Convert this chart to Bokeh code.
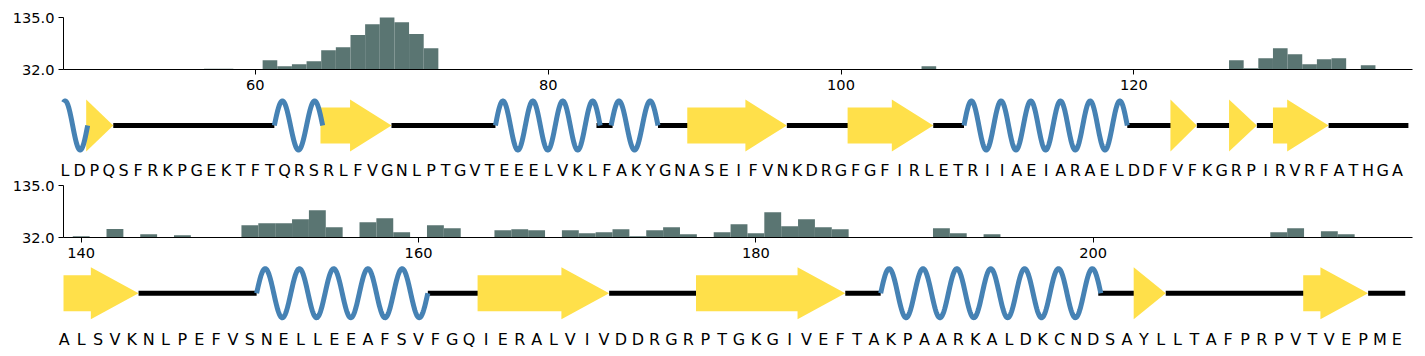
import numpy as np
from bokeh.plotting import figure
from bokeh.layouts import column
from bokeh.models import Range1d, FixedTicker, PrintfTickFormatter, LabelSet, ColumnDataSource
from bokeh.embed import file_html
from bokeh.resources import INLINE
from bokeh.core.properties import value

# ---------------- data ----------------
bar_residues = [57, 58, 61, 62, 63, 64, 65, 66, 67, 68, 69, 70, 71, 72, 106,
                127, 128, 129, 130, 131, 132, 133, 134, 136,
                140, 142, 144, 146, 150, 151, 152, 153, 154, 155, 157, 158, 159,
                161, 162, 165, 166, 167, 169, 170, 171, 172, 173, 174, 175, 176,
                178, 179, 180, 181, 182, 183, 184, 185, 191, 192, 194,
                211, 212, 214, 215]
bar_values = [33.5, 33.5, 50.4, 38.5, 42.5, 48.4, 70.2, 76.2, 100.5, 121.7, 135.0, 125.6, 102.5, 74.2, 38.5,
              50.4, 34.6, 54.4, 74.2, 62.3, 42.5, 52.4, 54.4, 40.5,
              34.6, 48.9, 38.5, 36.5, 56.2, 60.2, 60.2, 68.1, 85.8, 52.3, 62.1, 70.0, 42.4,
              56.2, 50.3, 46.4, 48.4, 46.4, 46.4, 40.5, 42.4, 48.4, 34.6, 46.4, 52.3, 38.5,
              42.4, 58.2, 40.5, 81.8, 54.3, 68.1, 52.3, 48.4, 50.3, 40.5, 38.5,
              42.4, 50.3, 44.4, 38.5]

seq_row1 = "LDPQSFRKPGEKTFTQRSRLFVGNLPTGVTEEELVKLFAKYGNASEIFVNKDRGFGFIRLETRIIAEIARAELDDFVFKGRPIRVRFATHGA"
seq_row2 = "ALSVKNLPEFVSNELLEEAFSVFGQIERALVIVDDRGRPTGKGIVEFTAKPAARKALDKCNDSAYLLTAFPRPVTVEPME"
row1_first = 47
row2_first = 139

y_ticks = [32.0, 135.0]
row1_x_ticks = [60, 80, 100, 120]
row2_x_ticks = [140, 160, 180, 200]
row1_view = (46.9, 139.03)
row2_view = (138.95, 218.93)

# secondary structure segments: H = helix, E = strand, C = coil
ss1_kind = ["H", "E", "C", "H", "E", "C", "H", "C", "H", "C", "E", "C", "E", "C", "H", "C",
            "E", "C", "E", "C", "E", "C"]
ss1_start = [46.5, 48.45, 50.3, 61.3, 64.45, 69.3, 76.4, 83.3, 84.3, 87.5, 89.5, 96.3, 100.45, 106.3, 108.4, 119.55,
             122.5, 124.3, 126.5, 128.4, 129.5, 133.3]
ss1_end = [48.55, 50.3, 61.3, 64.6, 69.3, 76.4, 83.55, 84.4, 87.5, 89.65, 96.3, 100.7, 106.3, 108.4, 119.55, 122.7,
           124.3, 126.7, 128.4, 129.7, 133.3, 138.75]

ss2_kind = ["E", "C", "H", "C", "E", "C", "E", "C", "H", "C", "E", "C", "E", "C"]
ss2_start = [138.5, 143.4, 150.4, 160.55, 163.5, 171.3, 176.45, 185.3, 187.4, 200.3, 202.4, 204.3, 212.45, 216.3]
ss2_end = [143.4, 150.4, 160.55, 163.6, 171.3, 176.6, 185.3, 187.4, 200.45, 202.6, 204.3, 212.55, 216.3, 218.5]

# ---------------- style ----------------
W = 1425
LEFT = 63
RIGHT = 13
BAR_COLOR = "#5a7572"
HELIX_COLOR = "#4682b4"
STRAND_COLOR = "#ffe04a"
TICK_FONT = "DejaVu Sans"
TICK_SIZE = "14.6px"
SEQ_SIZE = "16px"
HELIX_AMP = 24.5
BODY_H = 18
HEAD_H = 26
HEAD_LEN = 2.83
HELIX_PERIOD = 2.0


def extended(view):
    """x range covering the whole canvas width, keeping the data area at LEFT..W-RIGHT."""
    s = (W - LEFT - RIGHT) / (view[1] - view[0])
    return (view[0] - LEFT / s, view[1] + RIGHT / s)


def bar_yrange(height, px_top, px_bottom):
    """y range of a canvas of given height where y_ticks[1] sits at px_top and y_ticks[0] at px_bottom."""
    k = (y_ticks[1] - y_ticks[0]) / (px_bottom - px_top)
    return (y_ticks[0] - (height - px_bottom) * k, y_ticks[1] + px_top * k)


def style_axis(ax):
    ax.axis_line_color = "black"
    ax.axis_line_width = 1
    ax.major_tick_line_color = "black"
    ax.major_tick_out = 5
    ax.major_tick_in = 0
    ax.minor_tick_line_color = None
    ax.major_label_text_font = TICK_FONT
    ax.major_label_text_font_size = TICK_SIZE
    ax.major_label_text_color = "black"


def add_bars(p, view, xticks):
    xs = [r for r in bar_residues if view[0] <= r <= view[1]]
    ys = [v for r, v in zip(bar_residues, bar_values) if view[0] <= r <= view[1]]
    p.vbar(x=xs, top=ys, bottom=y_ticks[0], width=1.0, fill_color=BAR_COLOR, line_color=None)
    p.xaxis.ticker = FixedTicker(ticks=xticks)
    p.yaxis.ticker = FixedTicker(ticks=y_ticks)
    p.yaxis.formatter = PrintfTickFormatter(format="%.1f")
    p.yaxis.bounds = (y_ticks[0], y_ticks[1])
    p.xaxis.bounds = view
    p.yaxis.fixed_location = view[0]
    p.xaxis.fixed_location = y_ticks[0]
    style_axis(p.xaxis[0])
    style_axis(p.yaxis[0])
    p.xaxis.major_label_standoff = 5
    p.yaxis.major_label_standoff = 4


def add_track(p, kinds, starts, ends, view, seq, first, letter_y, xr="default", yr="default"):
    kw = dict(x_range_name=xr, y_range_name=yr)
    v0, v1 = view
    segs = [(k, s, e) for k, s, e in zip(kinds, starts, ends)]
    cx0 = [max(s, v0) for k, s, e in segs if k == "C"]
    cx1 = [min(e, v1) for k, s, e in segs if k == "C"]
    p.segment(x0=cx0, y0=[0] * len(cx0), x1=cx1, y1=[0] * len(cx0), line_color="black", line_width=5, **kw)
    pxs, pys = [], []
    for k, s, e in segs:
        if k != "E":
            continue
        xh = max(s, e - HEAD_LEN)
        sc = max(s, v0)
        if xh > s:
            pxs.append([sc, xh, xh, e, xh, xh, sc])
            pys.append([-BODY_H, -BODY_H, -HEAD_H, 0, HEAD_H, BODY_H, BODY_H])
        else:
            pxs.append([s, e, s])
            pys.append([-HEAD_H, 0, HEAD_H])
    p.patches(xs=pxs, ys=pys, fill_color=STRAND_COLOR, line_color=None, **kw)
    hxs, hys = [], []
    for k, s, e in segs:
        if k != "H":
            continue
        length = e - s
        n = round(2 * length / HELIX_PERIOD) / 2.0
        xx = np.linspace(s, e, 400)
        yy = HELIX_AMP * np.sin(2 * np.pi * n * (xx - s) / length)
        keep = xx >= v0
        hxs.append(list(xx[keep]))
        hys.append(list(yy[keep]))
    p.multi_line(xs=hxs, ys=hys, line_color=HELIX_COLOR, line_width=5, line_join="round", **kw)
    src = ColumnDataSource(dict(x=[first + i for i in range(len(seq))],
                                y=[letter_y] * len(seq), t=list(seq)))
    labels = LabelSet(x="x", y="y", text="t", source=src, text_align="center", text_baseline="middle",
                      text_font=value("DejaVu Sans"), text_font_size=value(SEQ_SIZE), text_color="black",
                      x_range_name=xr, y_range_name=yr)
    p.add_layout(labels)


def base_fig(height, xr, yr):
    p = figure(width=W, height=height, output_backend="svg", toolbar_location=None,
               x_range=Range1d(*xr), y_range=Range1d(*yr), min_border=0,
               min_border_left=0, min_border_right=0, min_border_top=0, min_border_bottom=0)
    p.outline_line_color = None
    p.grid.visible = False
    p.background_fill_color = "white"
    p.border_fill_color = "white"
    return p


# Canvas 1 (y 0..95): bars of row 1
C1_H = 95
c1 = base_fig(C1_H, extended(row1_view), bar_yrange(C1_H, 17, 69))
add_bars(c1, row1_view, row1_x_ticks)

# Canvas 2 (y 95..263): track of row 1 (own ranges) + bars of row 2
C2_H = 168
c2 = base_fig(C2_H, extended(row2_view), bar_yrange(C2_H, 90, 142))
c2.extra_x_ranges = {"trk": Range1d(*extended(row1_view))}
c2.extra_y_ranges = {"trk": Range1d(-(C2_H - 30), 30)}
add_bars(c2, row2_view, row2_x_ticks)
add_track(c2, ss1_kind, ss1_start, ss1_end, row1_view, seq_row1, row1_first, -44.5, "trk", "trk")

# Canvas 3 (y 263..356): track of row 2
C3_H = 93
c3 = base_fig(C3_H, extended(row2_view), (-(C3_H - 29.7), 29.7))
c3.axis.visible = False
add_track(c3, ss2_kind, ss2_start, ss2_end, row2_view, seq_row2, row2_first, -46.3)

layout = column(c1, c2, c3, spacing=0)
open("out.html", "w").write(file_html(layout, INLINE))
